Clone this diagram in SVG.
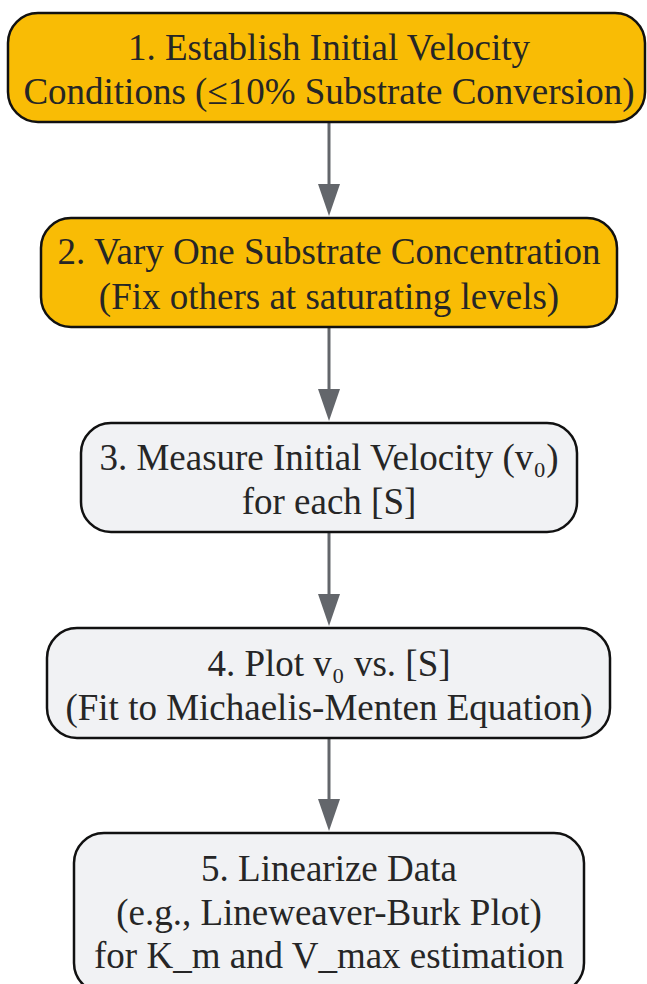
<svg xmlns="http://www.w3.org/2000/svg" width="647" height="984" viewBox="0 0 647 984">
<style>
.box{stroke:#111;stroke-width:2.5}
.hl{fill:#F9BC05}
.nm{fill:#F1F2F4}
text{font-family:"Liberation Serif","Times New Roman",serif;font-size:37px;fill:#262626;text-anchor:middle}
.edge{stroke:#63666B;stroke-width:3;fill:none}
.head{fill:#63666B}
</style>
<g id="connectors">
<line class="edge" x1="329" y1="123" x2="329" y2="184"/>
<path class="head" d="M318,184 L340,184 L329,216 Z"/>
<line class="edge" x1="329" y1="328" x2="329" y2="389"/>
<path class="head" d="M318,389 L340,389 L329,421 Z"/>
<line class="edge" x1="329" y1="533" x2="329" y2="594"/>
<path class="head" d="M318,594 L340,594 L329,626 Z"/>
<line class="edge" x1="329" y1="739" x2="329" y2="799"/>
<path class="head" d="M318,799 L340,799 L329,831 Z"/>
</g>
<g id="n1">
<rect class="box hl" x="8" y="13" width="637" height="109" rx="30"/>
<text x="329" y="60">1. Establish Initial Velocity</text>
<text x="329" y="104">Conditions (≤10% Substrate Conversion)</text>
</g>
<g id="n2">
<rect class="box hl" x="41" y="218" width="576" height="109" rx="30"/>
<text x="329" y="264">2. Vary One Substrate Concentration</text>
<text x="329" y="309">(Fix others at saturating levels)</text>
</g>
<g id="n3">
<rect class="box nm" x="81" y="423" width="496" height="109" rx="30"/>
<text x="329" y="470">3. Measure Initial Velocity (v₀)</text>
<text x="329" y="514">for each [S]</text>
</g>
<g id="n4">
<rect class="box nm" x="47" y="628" width="563" height="110" rx="30"/>
<text x="329" y="676">4. Plot v₀ vs. [S]</text>
<text x="329" y="720">(Fit to Michaelis-Menten Equation)</text>
</g>
<g id="n5">
<rect class="box nm" x="74" y="833" width="510" height="160" rx="30"/>
<text x="329" y="881">5. Linearize Data</text>
<text x="329" y="925">(e.g., Lineweaver-Burk Plot)</text>
<text x="329" y="968">for K_m and V_max estimation</text>
</g>
</svg>
